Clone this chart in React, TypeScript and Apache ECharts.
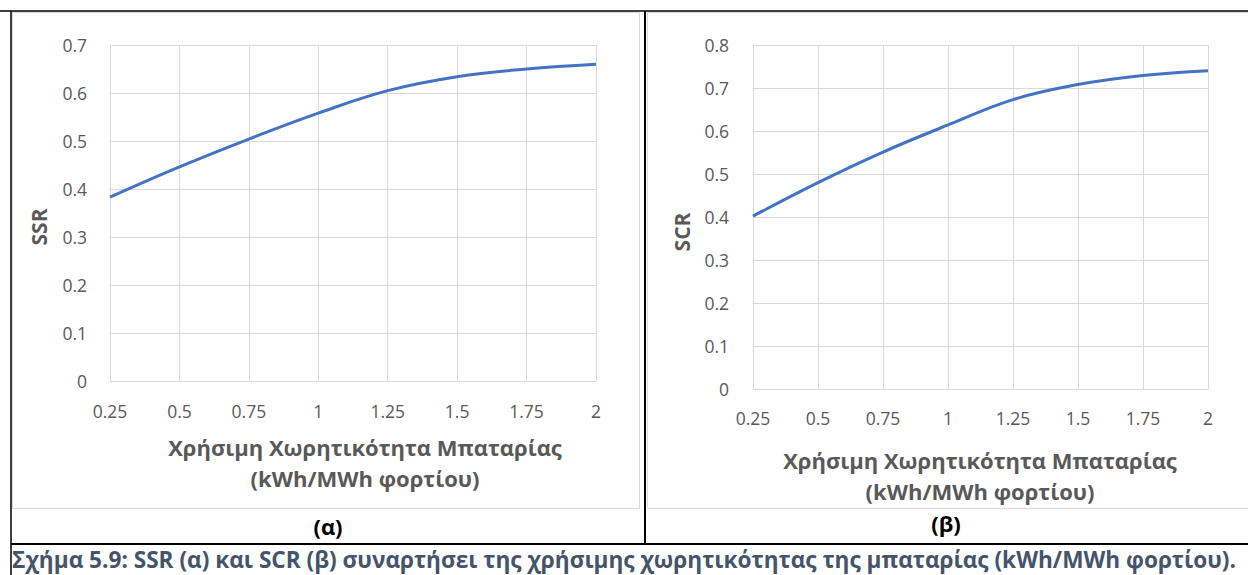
import React, { useEffect, useRef } from "react";
import * as echarts from "echarts";

const capacity = [0.25, 0.5, 0.75, 1, 1.25, 1.5, 1.75, 2];
const ssrValues = [0.383, 0.446, 0.504, 0.558, 0.605, 0.634, 0.65, 0.66];
const scrValues = [0.402, 0.48, 0.551, 0.614, 0.673, 0.708, 0.729, 0.74];

const xTitleLine1 = "Χρήσιμη Χωρητικότητα Μπαταρίας";
const xTitleLine2 = "(kWh/MWh φορτίου)";
const captionText =
  "Σχήμα 5.9: SSR (α) και SCR (β) συναρτήσει της χρήσιμης χωρητικότητας της μπαταρίας (kWh/MWh φορτίου).";

const FONT = "'Open Sans', 'Noto Sans', sans-serif";
const GREY = "#595959";
const GRID = "#d9d9d9";

export default function App() {
  const ref = useRef<HTMLDivElement>(null);

  useEffect(() => {
    document.body.style.margin = "0";
    if (!ref.current) return;
    const chart = echarts.init(ref.current, undefined, { renderer: "svg" });

    const xAxisCommon = (margin: number) => ({
      type: "value" as const,
      min: 0.25,
      max: 2,
      interval: 0.25,
      axisLine: { show: true, lineStyle: { color: GRID, width: 1 } },
      axisTick: { show: false },
      axisLabel: { color: GREY, fontSize: 17.5, fontFamily: FONT, margin },
      splitLine: { show: true, lineStyle: { color: GRID, width: 1 } },
    });
    const yAxisCommon = (max: number, margin: number) => ({
      type: "value" as const,
      min: 0,
      max,
      interval: 0.1,
      axisLine: { show: false },
      axisTick: { show: false },
      axisLabel: { color: GREY, fontSize: 17.5, fontFamily: FONT, margin },
      splitLine: { show: true, lineStyle: { color: GRID, width: 1 } },
    });

    const line = (x1: number, y1: number, x2: number, y2: number, stroke: string, lw: number) => ({
      type: "line",
      shape: { x1, y1, x2, y2 },
      style: { stroke, lineWidth: lw },
      silent: true,
    });
    const text = (
      x: number,
      y: number,
      t: string,
      size: number,
      color: string,
      weight: string,
      rotation = 0
    ) => ({
      type: "text",
      x,
      y,
      rotation,
      silent: true,
      style: {
        text: t,
        fill: color,
        fontSize: size,
        fontWeight: weight,
        fontFamily: FONT,
        align: "center",
        verticalAlign: "middle",
      },
    });

    chart.setOption({
      animation: false,
      backgroundColor: "#ffffff",
      grid: [
        { left: 110, top: 45, width: 486, height: 336 },
        { left: 753, top: 45, width: 455, height: 344 },
      ],
      xAxis: [
        { ...xAxisCommon(21), gridIndex: 0 },
        { ...xAxisCommon(20), gridIndex: 1 },
      ],
      yAxis: [
        { ...yAxisCommon(0.7, 23), gridIndex: 0 },
        { ...yAxisCommon(0.8, 24), gridIndex: 1 },
      ],
      series: [
        {
          type: "line",
          xAxisIndex: 0,
          yAxisIndex: 0,
          data: capacity.map((c, i) => [c, ssrValues[i]]),
          smooth: 0.4,
          showSymbol: false,
          lineStyle: { color: "#4472C4", width: 3 },
        },
        {
          type: "line",
          xAxisIndex: 1,
          yAxisIndex: 1,
          data: capacity.map((c, i) => [c, scrValues[i]]),
          smooth: 0.4,
          showSymbol: false,
          lineStyle: { color: "#4472C4", width: 3 },
        },
      ],
      graphic: [
        // chart area borders (light grey)
        { type: "rect", shape: { x: 12.5, y: 12.5, width: 627, height: 496 }, style: { fill: "none", stroke: GRID, lineWidth: 1 }, silent: true },
        { type: "rect", shape: { x: 647.5, y: 12.5, width: 620, height: 496 }, style: { fill: "none", stroke: GRID, lineWidth: 1 }, silent: true },
        // table borders
        line(0, 11, 1248, 11, "#000", 1.5),
        line(11, 11, 11, 575, "#000", 1.5),
        line(645, 11, 645, 544, "#000", 2),
        line(11, 544, 1248, 544, "#000", 2),
        // axis titles
        text(39, 227, "SSR", 21, GREY, "bold", Math.PI / 2),
        text(682, 232, "SCR", 21, GREY, "bold", Math.PI / 2),
        text(365, 447, xTitleLine1, 22, GREY, "bold"),
        text(365, 478, xTitleLine2, 22, GREY, "bold"),
        text(980, 460, xTitleLine1, 22, GREY, "bold"),
        text(980, 491, xTitleLine2, 22, GREY, "bold"),
        // panel labels
        text(328, 526, "(α)", 22, "#000", "bold"),
        text(946, 523, "(β)", 22, "#000", "bold"),
        // caption
        text(624, 559, captionText, 22.6, "#44546A", "bold"),
      ],
    });

    return () => chart.dispose();
  }, []);

  return <div ref={ref} style={{ width: 1248, height: 575 }} />;
}
